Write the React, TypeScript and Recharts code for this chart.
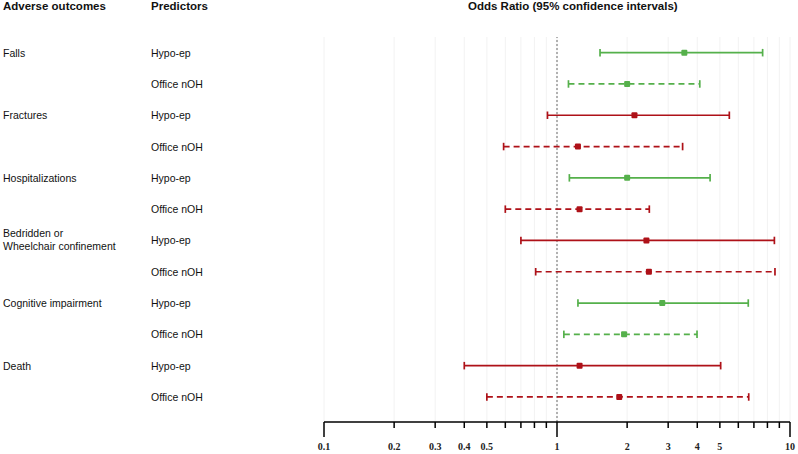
import React from "react";
import {
  CartesianGrid,
  ReferenceLine,
  Scatter,
  ScatterChart,
  XAxis,
  YAxis
} from "recharts";

// one entry per row (top to bottom)
const outcomes = [
  "Falls",
  "",
  "Fractures",
  "",
  "Hospitalizations",
  "",
  "Bedridden or|Wheelchair confinement",
  "",
  "Cognitive impairment",
  "",
  "Death",
  ""
];
const predictors = [
  "Hypo-ep", "Office nOH",
  "Hypo-ep", "Office nOH",
  "Hypo-ep", "Office nOH",
  "Hypo-ep", "Office nOH",
  "Hypo-ep", "Office nOH",
  "Hypo-ep", "Office nOH"
];
const oddsRatio = [3.52, 2.0, 2.15, 1.23, 2.0, 1.25, 2.42, 2.48, 2.83, 1.94, 1.25, 1.85];
const lowerCI = [1.53, 1.12, 0.91, 0.59, 1.13, 0.6, 0.7, 0.81, 1.23, 1.07, 0.4, 0.5];
const upperCI = [7.63, 4.1, 5.49, 3.46, 4.54, 2.49, 8.57, 8.62, 6.62, 3.99, 5.04, 6.65];

const xTicks = [0.1, 0.2, 0.3, 0.4, 0.5, 0.6, 0.7, 0.8, 0.9, 1, 2, 3, 4, 5, 6, 7, 8, 9, 10];
const xTickLabels = ["0.1", "0.2", "0.3", "0.4", "0.5", "", "", "", "", "1", "2", "3", "4", "5", "", "", "", "", "10"];
const majorTicks = [0.1, 1, 10];

const GREEN = "#55b04b";
const RED = "#ae1118";

const rows = oddsRatio.map((or, i) => ({
  row: i + 1,
  or,
  lo: lowerCI[i],
  hi: upperCI[i],
  sig: lowerCI[i] > 1,
  dashed: predictors[i] === "Office nOH"
}));

const XTick = (props: any) => {
  const { x, y, payload, index } = props;
  const major = majorTicks.includes(payload.value);
  return (
    <g>
      <line x1={x} y1={y} x2={x} y2={y + (major ? 15 : 6)} stroke="#000" strokeWidth={1.5} />
      <text
        x={x}
        y={y + 28}
        textAnchor="middle"
        fontFamily="'Liberation Serif', 'Times New Roman', serif"
        fontSize={10}
        fontWeight="bold"
        fill="#222"
      >
        {xTickLabels[index]}
      </text>
    </g>
  );
};

const YTick = (props: any) => {
  const { y, payload } = props;
  const i = payload.value - 1;
  const outcome = outcomes[i] || "";
  const lines = outcome ? outcome.split("|") : [];
  return (
    <g fontFamily="Arial, 'Liberation Sans', sans-serif" fontSize={10.5} fill="#111">
      {lines.map((t, k) => (
        <text key={k} x={3} y={y + (k - (lines.length - 1) / 2) * 13 - (lines.length > 1 ? 1 : 0)} dominantBaseline="central">
          {t}
        </text>
      ))}
      <text x={151} y={y} dominantBaseline="central">
        {predictors[i]}
      </text>
    </g>
  );
};

const square = (color: string) => (props: any) => (
  <rect x={props.cx - 3} y={props.cy - 3} width={6} height={6} rx={1} fill={color} />
);

export default function App() {
  const headerStyle: React.CSSProperties = {
    position: "absolute",
    top: 0,
    fontFamily: "Arial, 'Liberation Sans', sans-serif",
    fontWeight: "bold",
    fontSize: 11.5,
    color: "#111",
    lineHeight: "13px"
  };
  return (
    <div style={{ position: "absolute", left: 0, top: 0, width: 798, height: 454, background: "#fff" }}>
      <div style={{ ...headerStyle, left: 3 }}>Adverse outcomes</div>
      <div style={{ ...headerStyle, left: 151 }}>Predictors</div>
      <div style={{ ...headerStyle, left: 468 }}>Odds Ratio (95% confidence intervals)</div>
      <ScatterChart width={798} height={454} margin={{ top: 37, right: 8, bottom: 0, left: 0 }}>
        <CartesianGrid horizontal={false} stroke="#f2f2f2" strokeWidth={1} />
        <XAxis
          type="number"
          dataKey="or"
          scale="log"
          domain={[0.1, 10]}
          ticks={xTicks}
          interval={0}
          allowDataOverflow
          height={32}
          tickSize={0}
          tickMargin={0}
          tickLine={false}
          axisLine={{ stroke: "#000", strokeWidth: 1.5 }}
          tick={<XTick />}
        />
        <YAxis
          type="number"
          dataKey="row"
          domain={[0.5, 12.8]}
          ticks={[1, 2, 3, 4, 5, 6, 7, 8, 9, 10, 11, 12]}
          interval={0}
          reversed
          width={324}
          axisLine={false}
          tickLine={false}
          tick={<YTick />}
        />
        <ReferenceLine x={1} stroke="#999" strokeDasharray="2 2" strokeWidth={1.5} />
        {rows.map((r) => {
          const color = r.sig ? GREEN : RED;
          const dash = r.dashed ? "6 4" : undefined;
          return (
            <React.Fragment key={r.row}>
              <ReferenceLine
                segment={[{ x: r.lo, y: r.row }, { x: r.hi, y: r.row }]}
                stroke={color}
                strokeWidth={1.7}
                strokeDasharray={dash}
              />
              <ReferenceLine
                segment={[{ x: r.lo, y: r.row - 0.12 }, { x: r.lo, y: r.row + 0.12 }]}
                stroke={color}
                strokeWidth={1.7}
              />
              <ReferenceLine
                segment={[{ x: r.hi, y: r.row - 0.12 }, { x: r.hi, y: r.row + 0.12 }]}
                stroke={color}
                strokeWidth={1.7}
              />
            </React.Fragment>
          );
        })}
        <Scatter data={rows.filter((r) => r.sig)} fill={GREEN} shape={square(GREEN)} isAnimationActive={false} />
        <Scatter data={rows.filter((r) => !r.sig)} fill={RED} shape={square(RED)} isAnimationActive={false} />
      </ScatterChart>
    </div>
  );
}
